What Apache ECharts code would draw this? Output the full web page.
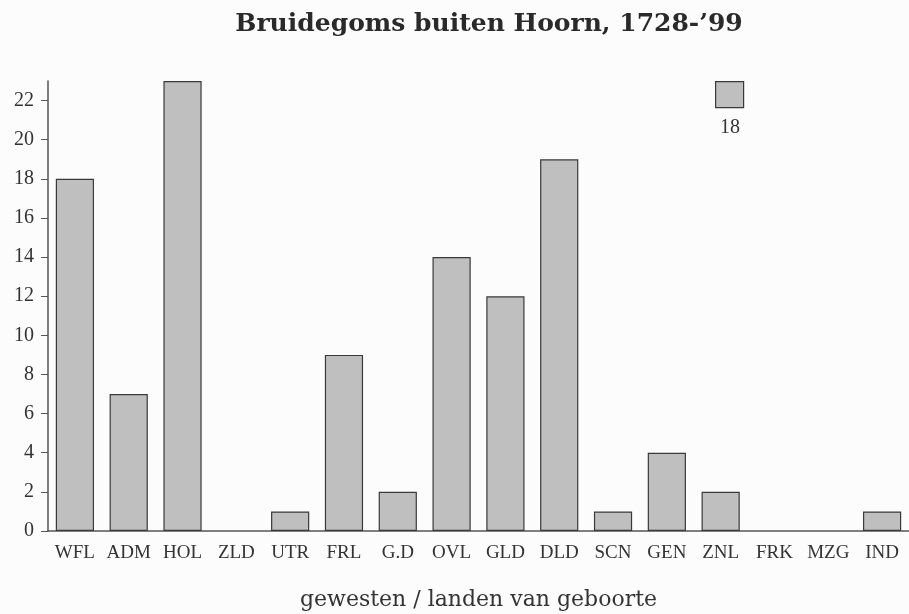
<!DOCTYPE html>
<html><head><meta charset="utf-8">
<script src="https://cdn.jsdelivr.net/npm/echarts@6/dist/echarts.min.js"></script>
<style>html,body{margin:0;padding:0;background:#fcfcfc}#c{width:909px;height:614px}</style>
</head><body><div id="c"></div>
<script>
const categories = ['WFL','ADM','HOL','ZLD','UTR','FRL','G.D','OVL','GLD','DLD','SCN','GEN','ZNL','FRK','MZG','IND'];
const values = [18,7,23,0,1,9,2,14,12,19,1,4,2,0,0,1];
const yTicks = [0,2,4,6,8,10,12,14,16,18,20,22];
const seriesName = '18';
const titleText = 'Bruidegoms buiten Hoorn, 1728-\u201999';
const xName = 'gewesten / landen van geboorte';

const chart = echarts.init(document.getElementById('c'));
chart.setOption({
  backgroundColor: '#fcfcfc',
  animation: false,
  title: {
    text: titleText, left: 484, top: 7, textAlign: 'center',
    textStyle: {fontFamily: 'DejaVu Serif', fontWeight: 'bold', fontSize: 25, color: '#2a2a2a'}
  },
  grid: {left: 48, right: 0, top: 81, bottom: 83, outerBoundsMode: 'none', containLabel: false},
  xAxis: {
    type: 'category', data: categories,
    name: xName, nameLocation: 'middle', nameGap: 58,
    nameTextStyle: {fontFamily: 'DejaVu Serif', fontSize: 22, color: '#333'},
    axisLine: {lineStyle: {color: '#555', width: 1.5}},
    axisTick: {inside: true, length: 6, lineStyle: {color: '#555'}},
    axisLabel: {fontFamily: 'Liberation Serif', fontSize: 19, color: '#333', margin: 13, interval: 0}
  },
  yAxis: {
    type: 'value', min: 0, max: 23, interval: 2,
    splitLine: {show: false},
    axisLine: {show: true, lineStyle: {color: '#555', width: 1.5}},
    axisTick: {show: true, length: 7, lineStyle: {color: '#555'}, customValues: yTicks},
    axisLabel: {fontFamily: 'Liberation Serif', fontSize: 20, color: '#333', margin: 14, customValues: yTicks}
  },
  series: [{
    name: seriesName, type: 'bar', data: values.map(v => v === 0 ? null : v), barWidth: '71%',
    itemStyle: {color: '#bfbfbf', borderColor: '#3a3a3a', borderWidth: 1.2}
  }],
  graphic: [
    {type: 'rect', left: 715, top: 81, shape: {width: 28, height: 26},
     style: {fill: '#bfbfbf', stroke: '#3a3a3a', lineWidth: 1.2}},
    {type: 'text', left: 720, top: 118,
     style: {text: seriesName, font: '20px "Liberation Serif"', fill: '#333'}}
  ]
});
</script></body></html>
